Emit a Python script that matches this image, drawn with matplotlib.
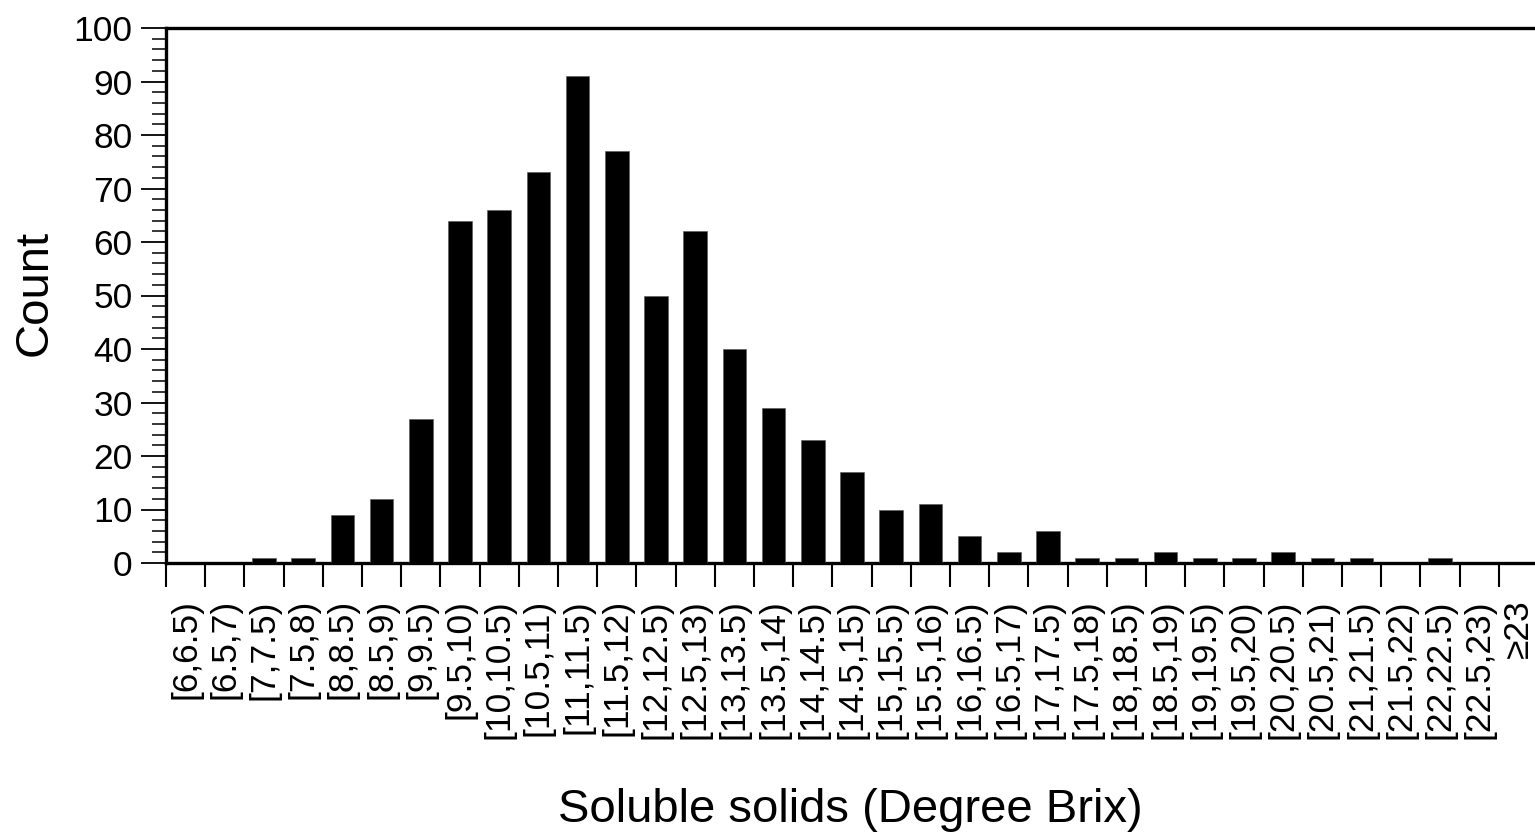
import matplotlib
matplotlib.use("Agg")
import matplotlib.pyplot as plt
from matplotlib.ticker import MultipleLocator, FixedLocator

plt.rcParams["font.family"] = ["Liberation Sans", "DejaVu Sans"]

# Brix bins (0.5 degree wide) and their counts
bins = ["[6,6.5)", "[6.5,7)", "[7,7.5)", "[7.5,8)", "[8,8.5)", "[8.5,9)",
        "[9,9.5)", "[9.5,10)", "[10,10.5)", "[10.5,11)", "[11,11.5)",
        "[11.5,12)", "[12,12.5)", "[12.5,13)", "[13,13.5)", "[13.5,14)",
        "[14,14.5)", "[14.5,15)", "[15,15.5)", "[15.5,16)", "[16,16.5)",
        "[16.5,17)", "[17,17.5)", "[17.5,18)", "[18,18.5)", "[18.5,19)",
        "[19,19.5)", "[19.5,20)", "[20,20.5)", "[20.5,21)", "[21,21.5)",
        "[21.5,22)", "[22,22.5)", "[22.5,23)", "≥23"]
counts = [0, 0, 1, 1, 9, 12, 27, 64, 66, 73, 91, 77, 50, 62, 40, 29, 23,
          17, 10, 11, 5, 2, 6, 1, 1, 2, 1, 1, 2, 1, 1, 0, 1, 0, 0]

fig = plt.figure(figsize=(15.35, 8.39), dpi=100)
ax = fig.add_axes([166 / 1535, 1 - 563 / 839, 1372 / 1535, 535 / 839])

x = list(range(len(bins)))
ax.bar(x, counts, width=0.6, color="black", edgecolor="#555555", linewidth=0.4, zorder=3)

ax.set_xlim(-0.5, len(bins) - 0.5)
ax.set_ylim(0, 100)

# y axis: major every 10, minor every 2
ax.yaxis.set_major_locator(MultipleLocator(10))
ax.yaxis.set_minor_locator(MultipleLocator(2))
ax.tick_params(axis="y", which="major", length=18, width=1.3, labelsize=25.5, pad=6)
ax.tick_params(axis="y", which="minor", length=10, width=1.1)

# x axis: ticks on bin boundaries, labels at bin centres
ax.xaxis.set_major_locator(FixedLocator([i - 0.5 for i in range(len(bins))]))
ax.xaxis.set_major_formatter(plt.NullFormatter())
ax.xaxis.set_minor_locator(FixedLocator(x))
ax.set_xticklabels(bins, minor=True, rotation=90, fontsize=25.5, va="top", ha="center")
ax.tick_params(axis="x", which="major", length=17, width=1.5)
ax.tick_params(axis="x", which="minor", length=0, pad=26)

for side in ["left", "top", "bottom"]:
    ax.spines[side].set_linewidth(2.4)
ax.spines["right"].set_visible(False)

fig.text(35 / 1535, 1 - 293 / 839, "Count", rotation=90, fontsize=34,
         ha="center", va="center")
fig.text(850 / 1535, 1 - 810 / 839, "Soluble solids (Degree Brix)", fontsize=34,
         ha="center", va="center")

fig.savefig("out.png", dpi=100)
